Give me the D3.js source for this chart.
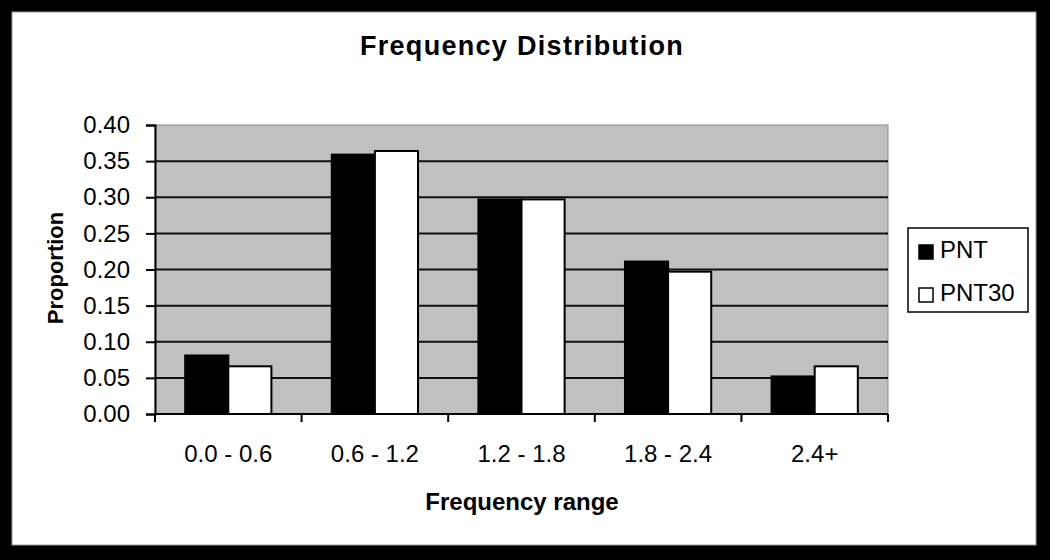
<!DOCTYPE html>
<html>
<head>
<meta charset="utf-8">
<script src="https://cdn.jsdelivr.net/npm/d3@7"></script>
<style>
  body { margin: 0; background: #000; }
  svg { display: block; }
  text { font-family: "Liberation Sans", Arial, sans-serif; fill: #000; }
</style>
</head>
<body>
<svg id="chart" width="1050" height="560"></svg>
<script>
// data
var categories = ["0.0 - 0.6", "0.6 - 1.2", "1.2 - 1.8", "1.8 - 2.4", "2.4+"];
var seriesNames = ["PNT", "PNT30"];
var pnt = [0.081, 0.359, 0.297, 0.211, 0.052];
var pnt30 = [0.066, 0.364, 0.297, 0.197, 0.066];
var yTicks = [0, 0.05, 0.10, 0.15, 0.20, 0.25, 0.30, 0.35, 0.40];
var fills = ["#000", "#fff"];

var svg = d3.select("#chart"),
    W = 1050, H = 560;

var plot = {left: 155, right: 888, top: 125, bottom: 414};

// frame: white card inside black border
svg.append("rect").attr("x", 0).attr("y", 0).attr("width", W).attr("height", H).attr("fill", "#000");
svg.append("rect").attr("x", 12).attr("y", 12).attr("width", 1024).attr("height", 533)
    .attr("fill", "#fff").attr("stroke", "#999").attr("stroke-width", 1);

var x = d3.scaleBand().domain(categories).range([plot.left, plot.right]).padding(0);
var xs = d3.scaleBand().domain(seriesNames).range([0, x.bandwidth()]).paddingInner(0).paddingOuter(0.7);
var y = d3.scaleLinear().domain([0, 0.4]).range([plot.bottom, plot.top]);

// plot area
svg.append("rect")
    .attr("x", plot.left).attr("y", plot.top)
    .attr("width", plot.right - plot.left).attr("height", plot.bottom - plot.top)
    .attr("fill", "#c0c0c0").attr("stroke", "#8a8a8a").attr("stroke-width", 1);

// gridlines
svg.append("g").selectAll("line").data(yTicks.filter(d => d > 0 && d < 0.4)).enter().append("line")
    .attr("x1", plot.left).attr("x2", plot.right)
    .attr("y1", d => y(d)).attr("y2", d => y(d))
    .attr("stroke", "#111").attr("stroke-width", 2);

// bars
var rows = categories.map((c, i) => ({cat: c, vals: [pnt[i], pnt30[i]]}));
var groups = svg.append("g").selectAll("g").data(rows).enter().append("g")
    .attr("transform", d => "translate(" + x(d.cat) + ",0)");
groups.selectAll("rect").data(d => d.vals.map((v, j) => ({name: seriesNames[j], v: v, j: j})))
    .enter().append("rect")
    .attr("x", d => xs(d.name))
    .attr("width", xs.bandwidth())
    .attr("y", d => y(d.v))
    .attr("height", d => y(0) - y(d.v))
    .attr("fill", d => fills[d.j])
    .attr("stroke", "#000").attr("stroke-width", 2);

// axes
var yAxis = svg.append("g").attr("transform", "translate(" + plot.left + ",0)")
    .call(d3.axisLeft(y).tickValues(yTicks).tickFormat(d3.format(".2f")).tickSize(9).tickPadding(16));
yAxis.selectAll("text").style("font-size", "24px");

var xAxis = svg.append("g").attr("transform", "translate(0," + plot.bottom + ")")
    .call(d3.axisBottom(x).tickSize(0).tickPadding(31));
xAxis.selectAll("text").style("font-size", "24px");
xAxis.select(".domain").remove();
// category separators
svg.append("g").selectAll("line").data(categories.concat(["end"])).enter().append("line")
    .attr("x1", (d, i) => i < categories.length ? x(d) : plot.right)
    .attr("x2", (d, i) => i < categories.length ? x(d) : plot.right)
    .attr("y1", plot.bottom).attr("y2", plot.bottom + 8)
    .attr("stroke", "#000").attr("stroke-width", 2);
svg.append("line").attr("x1", plot.left).attr("x2", plot.right)
    .attr("y1", plot.bottom).attr("y2", plot.bottom).attr("stroke", "#000").attr("stroke-width", 2);

svg.selectAll(".domain, .tick line").attr("stroke", "#000").attr("stroke-width", 2);
svg.selectAll(".tick text").attr("fill", "#000").style("font-family", "'Liberation Sans', Arial, sans-serif");

// titles
svg.append("text").attr("x", 522).attr("y", 55).attr("text-anchor", "middle")
    .style("font-size", "27px").style("font-weight", "bold").style("letter-spacing", "1.3px")
    .text("Frequency Distribution");
svg.append("text").attr("x", 522).attr("y", 510).attr("text-anchor", "middle")
    .style("font-size", "24px").style("font-weight", "bold")
    .text("Frequency range");
svg.append("text").attr("transform", "translate(63,268) rotate(-90)").attr("text-anchor", "middle")
    .style("font-size", "22px").style("font-weight", "bold")
    .text("Proportion");

// legend
var lg = svg.append("g");
lg.append("rect").attr("x", 908).attr("y", 228).attr("width", 120).attr("height", 84)
    .attr("fill", "#fff").attr("stroke", "#000").attr("stroke-width", 1.5);
var items = lg.selectAll("g").data(seriesNames).enter().append("g")
    .attr("transform", (d, i) => "translate(919," + (245 + i * 43) + ")");
items.append("rect").attr("width", 14).attr("height", 14)
    .attr("fill", (d, i) => fills[i]).attr("stroke", "#000").attr("stroke-width", 1.5);
items.append("text").attr("x", 21).attr("y", 13).style("font-size", "24px").text(d => d);
</script>
</body>
</html>
